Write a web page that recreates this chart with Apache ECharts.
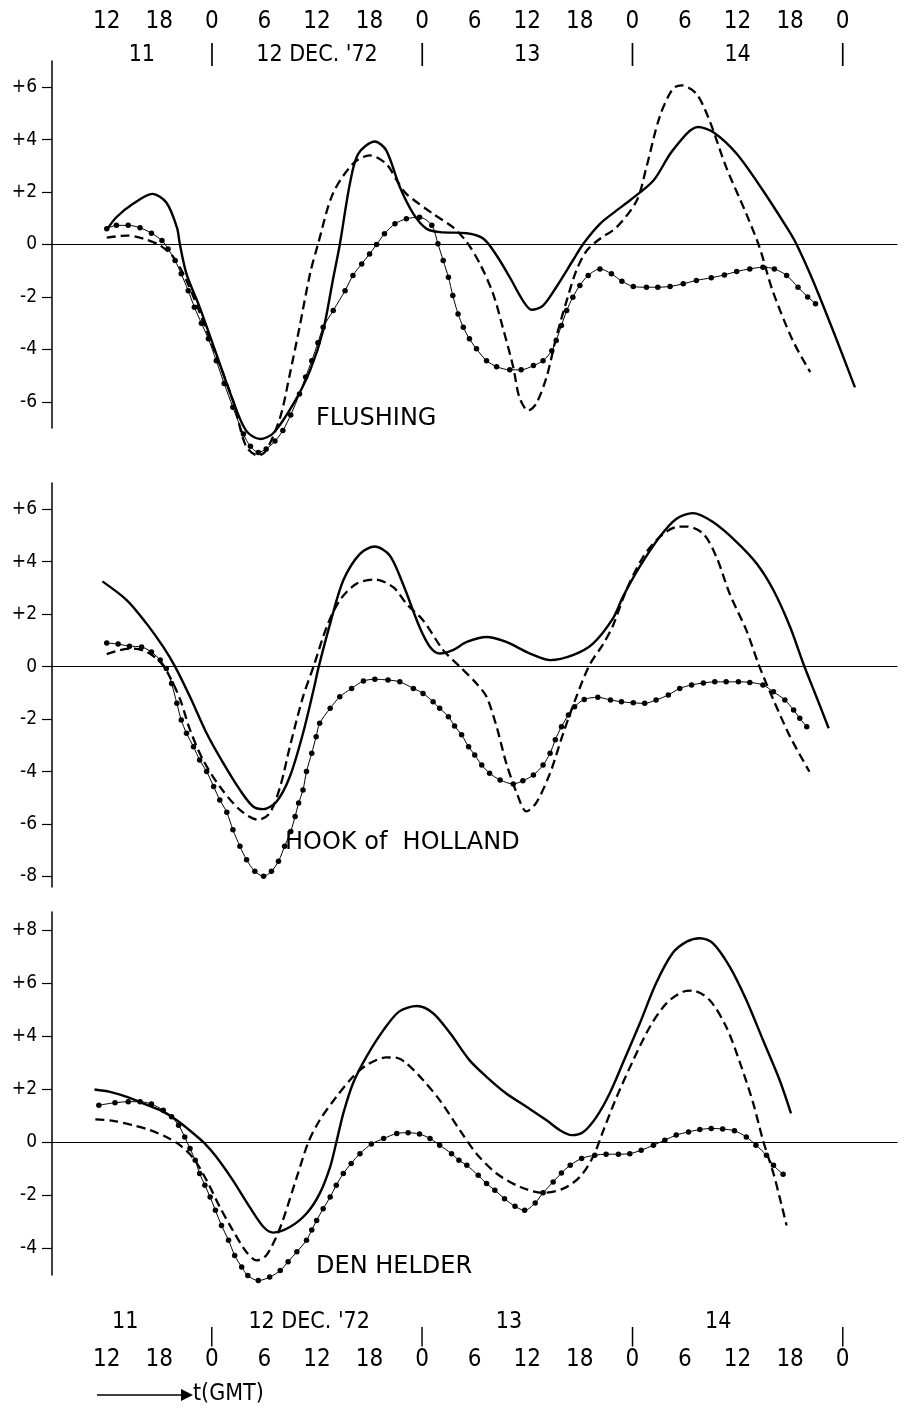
<!DOCTYPE html>
<html>
<head>
<meta charset="utf-8">
<script src="https://cdn.jsdelivr.net/npm/echarts@6/dist/echarts.min.js"></script>
<style>
html,body{margin:0;padding:0;background:#fff;}
#chart{width:904px;height:1410px;}
</style>
</head>
<body>
<div id="chart"></div>
<script>
// x values: hours since 11 Dec 1972 12:00 GMT; y values: surge (dm)
const hourTicks = [0, 6, 12, 18, 24, 30, 36, 42, 48, 54, 60, 66, 72, 78, 84];
const hourLabels = ['12', '18', '0', '6', '12', '18', '0', '6', '12', '18', '0', '6', '12', '18', '0'];
const topDayPos = [4, 12, 24, 36, 48, 60, 72, 84];
const topDayLabels = ['11', '|', "12 DEC. '72", '|', '13', '|', '14', '|'];
const bottomDayPos = [2.1, 23.1, 45.9, 69.8];
const bottomDayLabels = ['11', "12 DEC. '72", '13', '14'];
const bottomBarPos = [12, 36, 60, 84];
const stations = ['FLUSHING', 'HOOK of  HOLLAND', 'DEN HELDER'];
const yTicks1 = [-6, -4, -2, 0, 2, 4, 6];
const yTicks2 = [-8, -6, -4, -2, 0, 2, 4, 6];
const yTicks3 = [-4, -2, 0, 2, 4, 6, 8];

const flushSolid = [[0,0.56],[1.1,1.04],[3.0,1.55],[5.2,1.93],[6.8,1.6],[8.0,0.66],[8.35,0],[9.1,-1.12],[10.6,-2.39],[12.5,-4.17],[14.4,-5.95],[15.9,-7.1],[17.5,-7.42],[19.0,-7.2],[21.3,-6.08],[23.2,-4.81],[24.7,-3.28],[25.8,-1.37],[26.6,0],[27.75,2.32],[28.7,3.46],[30.6,3.93],[31.9,3.59],[33.45,2.19],[35.0,1.17],[36.5,0.6],[38.0,0.47],[41.1,0.43],[43.0,0.22],[44.5,-0.42],[46.0,-1.25],[47.5,-2.14],[48.5,-2.49],[49.8,-2.33],[51.3,-1.63],[53.2,-0.61],[54.4,0.03],[56.3,0.79],[58.2,1.3],[59.7,1.68],[62.4,2.44],[64.6,3.59],[67.5,4.48],[69.2,4.29],[71.9,3.46],[74.9,2.06],[77.6,0.66],[78.7,0.03],[80.6,-1.37],[82.9,-3.28],[85.4,-5.45]];
const flushDash = [[0,0.26],[2.3,0.34],[4.2,0.22],[6.1,-0.04],[7.6,-0.48],[9.1,-1.37],[11.4,-3.28],[14.4,-5.95],[15.9,-7.7],[17.3,-8.05],[18.2,-7.86],[19.8,-6.59],[20.9,-4.94],[22.0,-3.16],[23.2,-1.12],[24.1,0],[25.8,1.93],[28.1,3.08],[30.0,3.4],[31.9,3.08],[33.2,2.4],[34.2,1.93],[37.25,1.17],[39.5,0.66],[41.1,0.09],[42.6,-0.74],[44.1,-1.88],[45.2,-3.16],[46.4,-4.68],[47.1,-5.83],[48.1,-6.34],[49.0,-6.08],[50.2,-5.06],[51.3,-3.54],[52.5,-2.14],[53.6,-0.99],[54.8,-0.23],[56.3,0.22],[58.2,0.66],[60.5,1.68],[61.6,2.95],[63.1,4.86],[64.6,5.94],[65.6,6.07],[67.3,5.75],[68.8,4.73],[70.7,2.95],[73.0,1.17],[74.5,-0.1],[76.0,-1.76],[78.3,-3.66],[80.3,-4.87]];
const flushDot = [[0,0.6],[1.1,0.73],[2.45,0.73],[3.8,0.64],[5.1,0.43],[6.3,0.15],[7.0,-0.17],[7.8,-0.61],[8.5,-1.12],[9.3,-1.76],[10.0,-2.39],[10.8,-3.0],[11.6,-3.6],[12.5,-4.43],[13.4,-5.3],[14.4,-6.21],[15.6,-7.23],[16.4,-7.7],[17.3,-7.93],[18.2,-7.8],[19.2,-7.5],[20.1,-7.1],[21.0,-6.5],[22.0,-5.7],[22.7,-5.05],[23.4,-4.43],[24.1,-3.75],[24.7,-3.16],[25.85,-2.52],[27.2,-1.76],[28.1,-1.18],[29.1,-0.74],[30.0,-0.36],[30.8,0],[31.7,0.41],[32.9,0.79],[34.2,0.98],[35.7,1.04],[37.1,0.73],[37.8,0.03],[38.4,-0.61],[39.0,-1.25],[39.5,-1.95],[40.1,-2.65],[40.7,-3.16],[41.4,-3.6],[42.2,-3.98],[43.35,-4.43],[44.5,-4.66],[46.0,-4.78],[47.3,-4.78],[48.7,-4.62],[49.8,-4.43],[50.8,-4.05],[51.3,-3.66],[51.9,-3.09],[52.5,-2.52],[53.2,-2.01],[54.0,-1.56],[54.95,-1.18],[56.3,-0.93],[57.6,-1.12],[58.8,-1.4],[60.1,-1.6],[61.6,-1.63],[62.9,-1.63],[64.3,-1.6],[65.8,-1.5],[67.3,-1.37],[69.0,-1.27],[70.5,-1.16],[71.9,-1.03],[73.4,-0.93],[74.9,-0.87],[76.2,-0.93],[77.6,-1.18],[78.9,-1.63],[80.0,-2.0],[80.9,-2.26]];

const hookSolid = [[-0.5,3.25],[2.3,2.53],[4.55,1.64],[6.45,0.75],[7.8,0],[9.5,-1.15],[11.4,-2.54],[13.3,-3.68],[15.2,-4.7],[16.7,-5.33],[17.9,-5.43],[19.4,-5.14],[20.9,-4.19],[22.4,-2.54],[23.6,-0.89],[24.2,0],[25.5,1.64],[27.0,3.29],[28.9,4.3],[30.6,4.58],[32.3,4.24],[33.8,3.16],[35.7,1.51],[36.9,0.75],[38.0,0.5],[39.5,0.63],[41.1,0.94],[43.35,1.13],[45.6,0.94],[48.3,0.5],[50.6,0.25],[53.2,0.44],[55.5,0.88],[57.8,1.85],[58.9,2.65],[60.8,3.79],[63.1,4.94],[65.0,5.63],[66.9,5.85],[69.2,5.51],[71.9,4.75],[74.2,3.92],[76.1,2.91],[78.0,1.51],[79.5,0.12],[81.0,-1.15],[82.4,-2.35]];
const hookDash = [[0,0.48],[1.5,0.63],[3.0,0.69],[4.55,0.56],[6.1,0.18],[7.2,-0.39],[8.4,-1.27],[9.5,-2.41],[11.0,-3.56],[12.9,-4.57],[15.2,-5.46],[17.3,-5.84],[18.6,-5.58],[19.8,-4.57],[20.9,-3.05],[22.4,-1.15],[23.6,0],[25.1,1.51],[26.6,2.53],[28.5,3.16],[30.6,3.32],[32.7,3.03],[34.2,2.4],[36.1,1.77],[38.4,0.63],[40.3,0],[42.2,-0.64],[43.35,-1.15],[44.5,-2.29],[45.6,-3.68],[46.8,-4.82],[47.9,-5.52],[49.0,-5.2],[50.6,-4.06],[52.1,-2.54],[53.6,-1.15],[55.1,0.06],[56.7,0.88],[57.8,1.58],[59.3,2.91],[61.2,4.17],[63.1,4.94],[65.0,5.32],[66.2,5.34],[68.1,5.06],[69.6,4.17],[71.1,2.78],[73.0,1.39],[74.5,0],[76.1,-1.27],[78.0,-2.67],[80.2,-4.0]];
const hookDot = [[0,0.9],[1.3,0.86],[2.6,0.78],[3.97,0.75],[5.1,0.56],[6.1,0.25],[6.8,-0.07],[7.4,-0.64],[8.0,-1.4],[8.5,-2.03],[9.1,-2.54],[9.9,-3.05],[10.6,-3.56],[11.4,-4.0],[12.2,-4.57],[12.9,-5.08],[13.7,-5.55],[14.4,-6.22],[15.2,-6.85],[15.96,-7.36],[16.9,-7.8],[17.9,-7.99],[18.8,-7.8],[19.6,-7.42],[20.3,-6.85],[21.0,-6.28],[21.5,-5.71],[21.9,-5.2],[22.4,-4.7],[22.8,-4.0],[23.4,-3.3],[23.9,-2.67],[24.3,-2.16],[25.5,-1.59],[26.6,-1.15],[27.95,-0.83],[29.3,-0.55],[30.6,-0.48],[32.1,-0.51],[33.45,-0.58],[35.0,-0.83],[36.1,-1.02],[37.25,-1.34],[38.0,-1.59],[39.0,-1.91],[39.7,-2.26],[40.5,-2.6],[41.3,-3.05],[42.0,-3.37],[42.8,-3.75],[43.7,-4.06],[44.9,-4.32],[46.4,-4.47],[47.5,-4.35],[48.7,-4.13],[49.8,-3.75],[50.6,-3.3],[51.2,-2.79],[51.9,-2.29],[52.7,-1.84],[53.4,-1.53],[54.5,-1.25],[56.05,-1.17],[57.5,-1.27],[58.75,-1.34],[60.1,-1.38],[61.4,-1.4],[62.7,-1.27],[64.1,-1.08],[65.4,-0.83],[66.75,-0.7],[68.1,-0.62],[69.4,-0.58],[70.7,-0.58],[72.1,-0.58],[73.4,-0.6],[74.9,-0.7],[76.1,-0.96],[77.4,-1.27],[78.4,-1.65],[79.1,-1.97],[79.9,-2.29]];

const helderSolid = [[-1.4,2.0],[0.37,1.91],[2.3,1.72],[4.2,1.47],[6.1,1.22],[8.0,0.84],[9.9,0.34],[11.2,-0.04],[12.5,-0.54],[14.4,-1.43],[16.3,-2.43],[17.9,-3.19],[19.0,-3.4],[20.9,-3.19],[22.8,-2.68],[24.3,-1.93],[25.5,-0.92],[26.2,0],[27.0,1.1],[28.1,2.23],[29.65,3.24],[31.6,4.25],[33.4,4.95],[35.4,5.15],[37.25,4.88],[39.2,4.12],[41.4,3.11],[43.35,2.48],[45.6,1.85],[47.9,1.35],[50.2,0.84],[51.7,0.47],[53.05,0.28],[54.4,0.4],[55.9,0.97],[57.4,1.85],[58.9,2.99],[60.85,4.5],[62.7,6.01],[64.6,7.15],[66.2,7.58],[67.7,7.71],[69.2,7.52],[71.1,6.64],[73.0,5.38],[74.9,3.87],[76.8,2.36],[78.1,1.1]];
const helderDash = [[-1.3,0.87],[0.74,0.82],[3.0,0.65],[4.9,0.47],[6.8,0.21],[8.35,-0.1],[9.9,-0.6],[11.4,-1.43],[12.9,-2.43],[14.4,-3.32],[15.96,-4.14],[17.1,-4.45],[18.2,-4.26],[19.3,-3.6],[20.1,-2.94],[21.7,-1.3],[23.0,0],[24.3,0.84],[26.2,1.72],[28.1,2.48],[29.65,2.92],[31.9,3.21],[33.0,3.2],[34.2,2.99],[36.1,2.36],[38.0,1.6],[40.3,0.47],[42.2,-0.42],[44.5,-1.17],[47.2,-1.68],[49.8,-1.9],[52.1,-1.74],[54.0,-1.3],[55.5,-0.54],[56.7,0.47],[58.2,1.72],[60.1,3.11],[62.0,4.37],[63.9,5.26],[65.8,5.69],[66.9,5.73],[68.8,5.38],[70.7,4.37],[72.3,2.99],[73.8,1.47],[74.9,0.09],[76.1,-1.17],[76.8,-2.06],[77.6,-3.13]];
const helderDot = [[-0.9,1.41],[0.94,1.5],[2.45,1.54],[3.8,1.54],[5.1,1.45],[6.45,1.22],[7.4,0.97],[8.2,0.65],[8.9,0.21],[9.5,-0.23],[10.1,-0.67],[10.6,-1.17],[11.2,-1.61],[11.8,-2.06],[12.4,-2.56],[13.1,-3.13],[13.9,-3.69],[14.6,-4.26],[15.4,-4.7],[16.1,-5.02],[17.3,-5.21],[18.6,-5.08],[19.8,-4.83],[20.7,-4.5],[21.7,-4.12],[22.8,-3.69],[23.4,-3.3],[23.95,-2.94],[24.7,-2.5],[25.5,-2.06],[26.2,-1.61],[27.0,-1.17],[27.9,-0.79],[28.9,-0.42],[30.2,-0.06],[31.6,0.15],[33.1,0.34],[34.4,0.37],[35.7,0.32],[36.9,0.15],[38.0,-0.1],[39.35,-0.42],[40.2,-0.67],[41.1,-0.86],[42.4,-1.24],[43.35,-1.55],[44.3,-1.8],[45.4,-2.12],[46.6,-2.41],[47.7,-2.56],[48.9,-2.28],[49.8,-1.9],[50.95,-1.49],[51.9,-1.15],[52.9,-0.86],[54.2,-0.6],[55.7,-0.48],[57.0,-0.44],[58.4,-0.44],[59.7,-0.42],[61.0,-0.29],[62.4,-0.1],[63.7,0.09],[65.0,0.28],[66.4,0.4],[67.7,0.49],[69.0,0.53],[70.3,0.51],[71.65,0.44],[73.0,0.21],[74.1,-0.1],[75.3,-0.48],[76.1,-0.86],[77.2,-1.2]];

const NARROW = '"Liberation Sans Narrow", "DejaVu Sans Condensed", "Roboto Condensed", sans-serif';
const WIDE = '"DejaVu Sans", "Noto Sans", sans-serif';
const H_MIN = -6.25, H_MAX = 90.2;

function lookup(pos, labels) {
  return function (v) {
    for (let i = 0; i < pos.length; i++) if (Math.abs(pos[i] - v) < 1e-6) return labels[i];
    return '';
  };
}
function signed(v) { return v > 0 ? '+' + v : (v < 0 ? '-' + (-v) : '0'); }

const grids = [
  { left: 52, right: 7, top: 61, height: 367 },
  { left: 52, right: 7, top: 483, height: 404 },
  { left: 52, right: 7, top: 912, height: 363 }
];
const yRanges = [[-7, 7, yTicks1], [-8.4, 7, yTicks2], [-5, 8.7, yTicks3]];

const xAxes = [0, 1, 2].map(g => ({
  type: 'value', gridIndex: g, min: H_MIN, max: H_MAX,
  axisLine: { show: true, onZero: true, lineStyle: { color: '#000', width: 1.2 } },
  axisTick: { show: false }, axisLabel: { show: false }, splitLine: { show: false }
}));
function labelAxis(g, pos, custom, fmt, margin, size) {
  return {
    type: 'value', gridIndex: g, position: pos, min: H_MIN, max: H_MAX,
    axisLine: { show: false, onZero: false }, axisTick: { show: false }, splitLine: { show: false },
    axisLabel: { show: true, customValues: custom, formatter: fmt, margin: margin,
      verticalAlign: 'middle', color: '#000', fontFamily: NARROW, fontSize: size, showMinLabel: true, showMaxLabel: true }
  };
}
xAxes.push(labelAxis(0, 'top', hourTicks, lookup(hourTicks, hourLabels), 39, 24));
xAxes.push(labelAxis(0, 'top', topDayPos, lookup(topDayPos, topDayLabels), 6, 23));
xAxes.push(labelAxis(2, 'bottom', bottomDayPos, lookup(bottomDayPos, bottomDayLabels), 47, 23));
xAxes.push(labelAxis(2, 'bottom', bottomBarPos, () => '|', 62, 20));
xAxes.push(labelAxis(2, 'bottom', hourTicks, lookup(hourTicks, hourLabels), 85, 24));

const yAxes = [0, 1, 2].map(g => ({
  type: 'value', gridIndex: g, min: yRanges[g][0], max: yRanges[g][1],
  axisLine: { show: true, onZero: false, lineStyle: { color: '#000', width: 1.5 } },
  axisTick: { show: true, customValues: yRanges[g][2], length: 10, lineStyle: { color: '#000', width: 1.2 } },
  axisLabel: { show: true, customValues: yRanges[g][2], formatter: signed, margin: 15,
    color: '#000', fontFamily: NARROW, fontSize: 19 },
  splitLine: { show: false }
}));

function solid(data, g) {
  return { type: 'line', xAxisIndex: g, yAxisIndex: g, data: data, smooth: 0.3, showSymbol: false,
    clip: false, lineStyle: { color: '#000', width: 2.4 } };
}
function dashed(data, g) {
  return { type: 'line', xAxisIndex: g, yAxisIndex: g, data: data, smooth: 0.3, showSymbol: false,
    clip: false, lineStyle: { color: '#000', width: 2.3, type: [9, 5] } };
}
function dotted(data, g) {
  return { type: 'line', xAxisIndex: g, yAxisIndex: g, data: data, smooth: 0.3, showSymbol: true,
    symbol: 'circle', symbolSize: 5.5, clip: false, itemStyle: { color: '#000' },
    lineStyle: { color: '#000', width: 1 } };
}

const series = [
  solid(flushSolid, 0), dashed(flushDash, 0), dotted(flushDot, 0),
  solid(hookSolid, 1), dashed(hookDash, 1), dotted(hookDot, 1),
  solid(helderSolid, 2), dashed(helderDash, 2), dotted(helderDot, 2)
];

const stationStyle = { fill: '#000', font: '24px ' + WIDE, textVerticalAlign: 'middle' };
const graphic = [
  { type: 'text', left: 316, top: 407, style: Object.assign({ text: stations[0] }, stationStyle) },
  { type: 'text', left: 285, top: 831, style: Object.assign({ text: stations[1] }, stationStyle) },
  { type: 'text', left: 316, top: 1255, style: Object.assign({ text: stations[2] }, stationStyle) },
  { type: 'line', shape: { x1: 97, y1: 1395, x2: 184, y2: 1395 }, style: { stroke: '#000', lineWidth: 1.6 } },
  { type: 'polygon', shape: { points: [[181, 1389], [193, 1395], [181, 1401]] }, style: { fill: '#000' } },
  { type: 'text', left: 193, top: 1383, style: { text: 't(GMT)', fill: '#000', font: '23px ' + NARROW } }
];

const chart = echarts.init(document.getElementById('chart'), null, { renderer: 'canvas' });
chart.setOption({
  animation: false,
  backgroundColor: '#fff',
  grid: grids,
  xAxis: xAxes,
  yAxis: yAxes,
  series: series,
  graphic: graphic
});
</script>
</body>
</html>
